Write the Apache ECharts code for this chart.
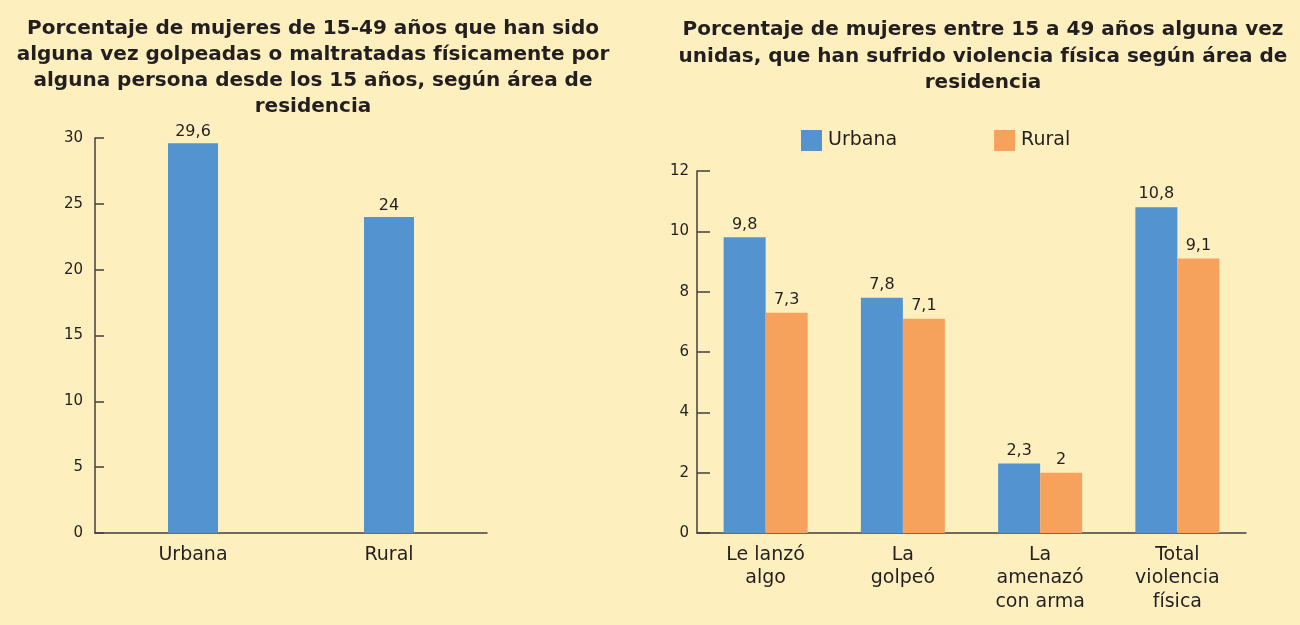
<!DOCTYPE html>
<html>
<head>
<meta charset="utf-8">
<title>Violencia física según área de residencia</title>
<script src="https://cdn.jsdelivr.net/npm/echarts@6/dist/echarts.min.js"></script>
<style>
	html, body { margin: 0; padding: 0; background: #fdefbe; }
	#main { width: 1300px; height: 625px; }
</style>
</head>
<body>
<div id="main"></div>
<script>
// datos grafico izquierdo
var areas = ['Urbana', 'Rural'];
var golpeadas = [29.6, 24];
// datos grafico derecho
var tipos = ['Le lanzó\nalgo', 'La\ngolpeó', 'La\namenazó\ncon arma', 'Total\nviolencia\nfísica'];
var urbana = [9.8, 7.8, 2.3, 10.8];
var rural = [7.3, 7.1, 2, 9.1];

var FONT = 'DejaVu Sans';
var TXT = '#231f20';
var AXIS = '#404040';

function coma(p) {
	return String(p.value).replace('.', ',');
}

function ejeY(idx, max, step, tickLen, margin) {
	return {
		type: 'value', gridIndex: idx, min: 0, max: max, interval: step,
		axisLine: { show: true, lineStyle: { color: AXIS, width: 1.5 } },
		axisTick: { show: true, inside: true, length: tickLen, lineStyle: { color: AXIS, width: 1.5 } },
		axisLabel: { color: TXT, fontFamily: FONT, fontSize: 15, margin: margin },
		splitLine: { show: false }
	};
}

function ejeX(idx, cats) {
	return {
		type: 'category', gridIndex: idx, data: cats,
		axisLine: { show: true, lineStyle: { color: AXIS, width: 1.5 } },
		axisTick: { show: false },
		axisLabel: { color: TXT, fontFamily: FONT, fontSize: 19, lineHeight: 23.7, margin: 10, interval: 0 }
	};
}

function etiqueta(dist) {
	return { show: true, position: 'top', distance: dist, formatter: coma, color: TXT, fontFamily: FONT, fontSize: 16 };
}

var chart = echarts.init(document.getElementById('main'));
var option = {
	backgroundColor: '#fdefbe',
	animation: false,
	title: [{
		text: 'Porcentaje de mujeres de 15-49 años que han sido\nalguna vez golpeadas o maltratadas físicamente por\nalguna persona desde los 15 años, según área de\nresidencia',
		left: 313, top: 16, textAlign: 'center', padding: 0,
		textStyle: { color: TXT, fontFamily: FONT, fontWeight: 'bold', fontSize: 20, lineHeight: 26 }
	}, {
		text: 'Porcentaje de mujeres entre 15 a 49 años alguna vez\nunidas, que han sufrido violencia física según área de\nresidencia',
		left: 983, top: 17, textAlign: 'center', padding: 0,
		textStyle: { color: TXT, fontFamily: FONT, fontWeight: 'bold', fontSize: 20, lineHeight: 26.5 }
	}],
	legend: {
		data: ['Urbana', 'Rural'],
		left: 801, top: 130, padding: 0,
		itemWidth: 21, itemHeight: 21, itemGap: 97,
		icon: 'rect',
		textStyle: { color: TXT, fontFamily: FONT, fontSize: 19, padding: [0, 0, 0, 1] }
	},
	grid: [
		{ left: 95, right: 813, top: 138, bottom: 92 },
		{ left: 697, right: 54, top: 171, bottom: 92 }
	],
	xAxis: [ejeX(0, areas), ejeX(1, tipos)],
	yAxis: [ejeY(0, 30, 5, 9, 12), ejeY(1, 12, 2, 13, 8)],
	series: [{
		name: 'Porcentaje', type: 'bar', xAxisIndex: 0, yAxisIndex: 0,
		data: golpeadas, barWidth: 50,
		itemStyle: { color: '#5394d0' },
		label: etiqueta(3)
	}, {
		name: 'Urbana', type: 'bar', xAxisIndex: 1, yAxisIndex: 1,
		data: urbana, barWidth: 42, barGap: '0%',
		itemStyle: { color: '#5394d0' },
		label: etiqueta(5)
	}, {
		name: 'Rural', type: 'bar', xAxisIndex: 1, yAxisIndex: 1,
		data: rural, barWidth: 42, barGap: '0%',
		itemStyle: { color: '#f6a25c' },
		label: etiqueta(5)
	}]
};
chart.setOption(option);
</script>
</body>
</html>
